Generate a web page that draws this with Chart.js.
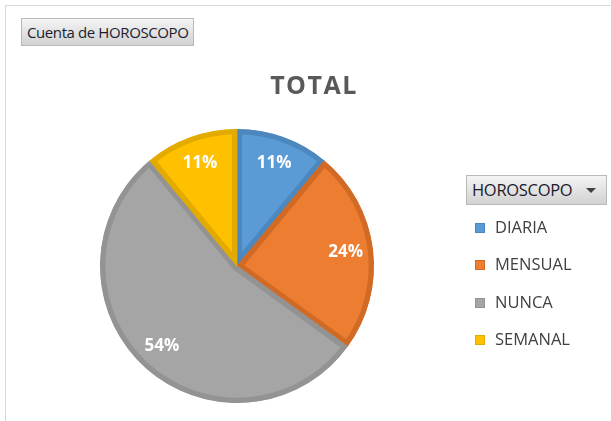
<!DOCTYPE html>
<html>
<head>
<meta charset="utf-8">
<script src="https://cdn.jsdelivr.net/npm/chart.js@4/dist/chart.umd.min.js"></script>
<style>
  html, body { margin: 0; padding: 0; background: #fff; }
  #wrap { position: relative; width: 611px; height: 421px; overflow: hidden; font-family: "Open Sans", sans-serif; }
  #frame { position: absolute; left: 5px; top: 5px; width: 620px; height: 430px; border-left: 1px solid #d9d9d9; border-top: 1px solid #d9d9d9; box-sizing: border-box; }
  canvas { position: absolute; left: 0; top: 0; }
  .btn { position: absolute; box-sizing: border-box; border: 1px solid #b9b9b9; background: linear-gradient(#f4f4f4, #d2d2d2); color: #1c1c2c; white-space: nowrap; }
  #fieldBtn { left: 21px; top: 18px; width: 173px; height: 28px; font-size: 15px; line-height: 26px; padding-left: 5px; letter-spacing: -0.4px; }
  #legendBtn { left: 466px; top: 175px; width: 141px; height: 30px; font-size: 16.5px; line-height: 28px; padding-left: 5px; letter-spacing: -0.3px; }
  #legendBtn .arrow { position: absolute; right: 10px; top: 12px; width: 0; height: 0; border-left: 5px solid transparent; border-right: 5px solid transparent; border-top: 5px solid #404040; }
  #title { position: absolute; left: 214px; width: 200px; top: 67px; text-align: center; font-size: 25px; font-weight: bold; color: #595959; letter-spacing: 1.5px; }
  .leg { position: absolute; left: 475px; font-size: 16.5px; color: #404040; line-height: 20px; white-space: nowrap; }
  .leg .sw { display: inline-block; width: 10px; height: 10px; margin-right: 10px; vertical-align: 0px; box-sizing: border-box; }
</style>
</head>
<body>
<div id="wrap">
  <div id="frame"></div>
  <canvas id="c" width="611" height="421"></canvas>
  <div id="fieldBtn" class="btn">Cuenta de HOROSCOPO</div>
  <div id="title">TOTAL</div>
  <div id="legendBtn" class="btn">HOROSCOPO<span class="arrow"></span></div>
  <div id="legend"></div>
</div>
<script>
const categories = ["DIARIA", "MENSUAL", "NUNCA", "SEMANAL"];
const percentValues = [11, 24, 54, 11];
const sliceColors = ["#5B9BD5", "#ED7D31", "#A5A5A5", "#FFC000"];
const sliceBorders = ["#4C87BE", "#D06A25", "#939393", "#E3AA00"];
const legendTops = [217, 254, 292, 329];

const legendEl = document.getElementById('legend');
categories.forEach((name, i) => {
  const d = document.createElement('div');
  d.className = 'leg';
  d.style.top = legendTops[i] + 'px';
  d.innerHTML = '<span class="sw" style="background:' + sliceColors[i] + ';border:1px solid ' + sliceBorders[i] + '"></span>' + name;
  legendEl.appendChild(d);
});

const labelPlugin = {
  id: 'pctLabels',
  afterDatasetsDraw(chart) {
    const ctx = chart.ctx;
    const meta = chart.getDatasetMeta(0);
    const data = chart.data.datasets[0].data;
    const total = data.reduce((a, b) => a + b, 0);
    ctx.save();
    ctx.font = 'bold 17px "Open Sans", sans-serif';
    ctx.fillStyle = '#ffffff';
    ctx.textAlign = 'center';
    ctx.textBaseline = 'middle';
    meta.data.forEach((arc, i) => {
      const p = arc.getProps(['x', 'y', 'startAngle', 'endAngle', 'outerRadius'], true);
      const mid = (p.startAngle + p.endAngle) / 2;
      const r = p.outerRadius * 0.8;
      const x = p.x + Math.cos(mid) * r;
      const y = p.y + Math.sin(mid) * r;
      ctx.fillText(Math.round(data[i] / total * 100) + '%', x, y);
    });
    ctx.restore();
  }
};

new Chart(document.getElementById('c'), {
  type: 'pie',
  data: {
    labels: categories,
    datasets: [{
      data: percentValues,
      backgroundColor: sliceColors,
      borderColor: sliceBorders,
      borderWidth: 5,
      borderAlign: 'inner'
    }]
  },
  options: {
    responsive: false,
    animation: false,
    layout: { padding: { left: 100, right: 237, top: 129, bottom: 18 } },
    plugins: { legend: { display: false }, tooltip: { enabled: false }, title: { display: false } }
  },
  plugins: [labelPlugin]
});
</script>
</body>
</html>
